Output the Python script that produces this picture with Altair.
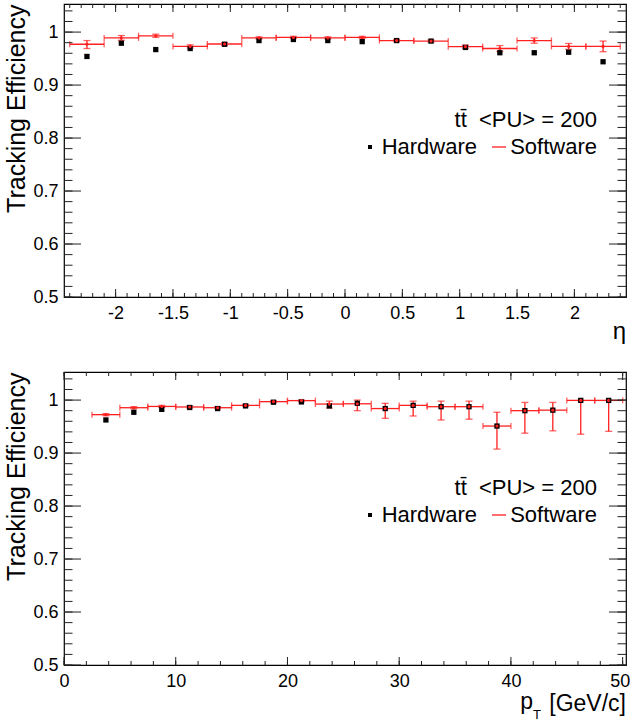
import altair as alt
import pandas as pd

# ---------------- data ----------------
eta_centers = [-2.25, -1.95, -1.65, -1.35, -1.05, -0.75, -0.45, -0.15,
               0.15, 0.45, 0.75, 1.05, 1.35, 1.65, 1.95, 2.25]
eta_halfwidth = 0.15
eta_hw = [0.954, 0.979, 0.967, 0.969, 0.977, 0.984, 0.986, 0.984,
          0.982, 0.984, 0.983, 0.971, 0.961, 0.961, 0.962, 0.944]
eta_sw = [0.977, 0.989, 0.993, 0.973, 0.9775, 0.989, 0.990, 0.989,
          0.990, 0.984, 0.983, 0.9725, 0.969, 0.984, 0.973, 0.973]
eta_sw_lo = [0.969, 0.9845, 0.990, 0.970, 0.9745, 0.987, 0.988, 0.987,
             0.988, 0.982, 0.981, 0.9695, 0.9635, 0.979, 0.9675, 0.963]
eta_sw_hi = [0.984, 0.9935, 0.996, 0.976, 0.9805, 0.991, 0.992, 0.991,
             0.992, 0.986, 0.985, 0.9755, 0.9745, 0.989, 0.9785, 0.983]

pt_centers = [3.75, 6.25, 8.75, 11.25, 13.75, 16.25, 18.75, 21.25, 23.75, 26.25,
              28.75, 31.25, 33.75, 36.25, 38.75, 41.25, 43.75, 46.25, 48.75]
pt_halfwidth = 1.25
pt_hw = [0.9625, 0.977, 0.9825, 0.986, 0.984, 0.989, 0.996, 0.9965, 0.989, 0.994,
         0.984, 0.990, 0.9875, 0.9875, 0.951, 0.980, 0.981, 0.9994, 0.9994]
pt_sw = [0.9725, 0.9856, 0.988, 0.987, 0.9856, 0.990, 0.997, 0.999, 0.9925, 0.993,
         0.984, 0.990, 0.9875, 0.9875, 0.951, 0.980, 0.981, 0.9994, 0.9994]
pt_sw_lo = [0.9705, 0.9836, 0.986, 0.985, 0.9836, 0.988, 0.995, 0.997, 0.985, 0.980,
            0.9656, 0.970, 0.9625, 0.964, 0.9075, 0.9375, 0.942, 0.9356, 0.941]
pt_sw_hi = [0.9745, 0.9876, 0.990, 0.989, 0.9876, 0.992, 0.999, 1.0, 0.998, 1.0,
            0.9938, 0.998, 0.998, 0.998, 0.977, 0.9956, 0.9956, 0.9994, 0.9994]

y_major = [0.5, 0.6, 0.7, 0.8, 0.9, 1.0]
y_minor = [round(0.5 + 0.02 * i, 2) for i in range(28)]
eta_major = [-2.0, -1.5, -1.0, -0.5, 0.0, 0.5, 1.0, 1.5, 2.0]
eta_minor = [round(-2.4 + 0.1 * i, 1) for i in range(49)]
pt_major = [0, 10, 20, 30, 40, 50]
pt_minor = list(range(0, 51, 2))

legend_title = ["tt\u0304\u00a0\u00a0<PU> = 200"]
legend_hw = ["Hardware"]
legend_sw = ["Software"]

# ---------------- layout constants ----------------
W, H = 562, 293
FONT = "Liberation Sans"
RED = "#ff2020"
Y_DOM = [0.5, 1.053]


def make_panel(centers, half, hw, sw, lo, hi, xdom, xmajor, xminor, xtitle_layers, last_label):
    df = pd.DataFrame({
        "c": centers,
        "xl": [c - half for c in centers],
        "xh": [c + half for c in centers],
        "hw": hw, "sw": sw, "lo": lo, "hi": hi,
    })
    xs = alt.Scale(domain=xdom, nice=False, zero=False)
    ys = alt.Scale(domain=Y_DOM, nice=False, zero=False)
    xaxis = alt.Axis(values=xmajor, labelExpr="datum.value + ''", ticks=False, domain=False,
                     grid=False, labelFont=FONT, labelFontSize=18, labelColor="black",
                     labelPadding=7, title=None, labelFlush=False,
                     labelOffset=alt.condition(f"datum.value == {last_label}", alt.value(-3), alt.value(0)))
    yaxis = alt.Axis(values=y_major, labelExpr="datum.value + ''", ticks=False, domain=False,
                     grid=False, labelFont=FONT, labelFontSize=18, labelColor="black",
                     labelPadding=6, title="Tracking Efficiency", titleFont=FONT,
                     titleFontSize=25, titleFontWeight="normal", titleColor="black",
                     titlePadding=3, titleAnchor="end")

    def X(f):
        return alt.X(f, type="quantitative", scale=xs, axis=xaxis)

    def Y(f):
        return alt.Y(f, type="quantitative", scale=ys, axis=yaxis)

    base = alt.Chart(df)
    hbar = base.mark_rule(color=RED, strokeWidth=1.3).encode(x=X("xl"), x2="xh", y=Y("sw"))
    vbar = base.mark_rule(color=RED, strokeWidth=1.3).encode(x=X("c"), y=Y("lo"), y2="hi")
    cap_lo = base.mark_tick(color=RED, orient="horizontal", size=7, thickness=1.3).encode(x=X("c"), y=Y("lo"))
    cap_hi = base.mark_tick(color=RED, orient="horizontal", size=7, thickness=1.3).encode(x=X("c"), y=Y("hi"))
    cap_l = base.mark_tick(color=RED, orient="vertical", size=6, thickness=1.3).encode(x=X("xl"), y=Y("sw"))
    cap_r = base.mark_tick(color=RED, orient="vertical", size=6, thickness=1.3).encode(x=X("xh"), y=Y("sw"))
    hwpts = base.mark_square(color="black", size=28, opacity=1).encode(x=X("c"), y=Y("hw"))
    swpts = base.mark_circle(color=RED, size=10, opacity=1).encode(x=X("c"), y=Y("sw"))

    # inner ticks (ROOT style) on all four sides
    ymaj = alt.Chart(pd.DataFrame({"v": y_major})).encode(y=Y("v"))
    ymin = alt.Chart(pd.DataFrame({"v": y_minor})).encode(y=Y("v"))
    xmaj = alt.Chart(pd.DataFrame({"v": xmajor})).encode(x=X("v"))
    xmin = alt.Chart(pd.DataFrame({"v": xminor})).encode(x=X("v"))
    tcol = "#222222"
    ticks = [
        ymaj.mark_rule(color=tcol).encode(x=alt.value(0), x2=alt.value(17)),
        ymaj.mark_rule(color=tcol).encode(x=alt.value(W - 17), x2=alt.value(W)),
        ymin.mark_rule(color=tcol).encode(x=alt.value(0), x2=alt.value(8.5)),
        ymin.mark_rule(color=tcol).encode(x=alt.value(W - 8.5), x2=alt.value(W)),
        xmaj.mark_rule(color=tcol).encode(y=alt.value(H), y2=alt.value(H - 8)),
        xmaj.mark_rule(color=tcol).encode(y=alt.value(0), y2=alt.value(8)),
        xmin.mark_rule(color=tcol).encode(y=alt.value(H), y2=alt.value(H - 4)),
        xmin.mark_rule(color=tcol).encode(y=alt.value(0), y2=alt.value(4)),
    ]

    # legend
    leg = [
        alt.Chart(pd.DataFrame({"t": legend_title})).mark_text(
            font=FONT, fontSize=22, align="right", baseline="alphabetic", color="black"
        ).encode(text="t:N", x=alt.value(533), y=alt.value(123)),
        alt.Chart(pd.DataFrame({"t": legend_hw})).mark_text(
            font=FONT, fontSize=22, align="right", baseline="alphabetic", color="black"
        ).encode(text="t:N", x=alt.value(413), y=alt.value(150)),
        alt.Chart(pd.DataFrame({"t": legend_sw})).mark_text(
            font=FONT, fontSize=22, align="right", baseline="alphabetic", color="black"
        ).encode(text="t:N", x=alt.value(533), y=alt.value(150)),
        alt.Chart(pd.DataFrame({"t": legend_hw})).mark_square(
            color="black", size=16, opacity=1
        ).encode(x=alt.value(306), y=alt.value(143)),
        alt.Chart(pd.DataFrame({"t": legend_sw})).mark_rule(
            color=RED, strokeWidth=1.3
        ).encode(x=alt.value(428), x2=alt.value(442), y=alt.value(143)),
    ]

    layers = [hbar, vbar, cap_lo, cap_hi, cap_l, cap_r, hwpts, swpts] + ticks + leg + xtitle_layers
    return alt.layer(*layers).properties(width=W, height=H)


eta_title = [
    alt.Chart(pd.DataFrame({"t": ["\u03b7"]})).mark_text(
        font=FONT, fontSize=24, align="right", baseline="middle", color="black"
    ).encode(text="t:N", x=alt.value(W), y=alt.value(H + 35)),
]
pt_title = [
    alt.Chart(pd.DataFrame({"t": ["[GeV/c]"]})).mark_text(
        font=FONT, fontSize=23, align="right", baseline="middle", color="black"
    ).encode(text="t:N", x=alt.value(W), y=alt.value(H + 39)),
    alt.Chart(pd.DataFrame({"t": ["p"]})).mark_text(
        font=FONT, fontSize=23, align="right", baseline="middle", color="black"
    ).encode(text="t:N", x=alt.value(W - 93), y=alt.value(H + 37)),
    alt.Chart(pd.DataFrame({"t": ["T"]})).mark_text(
        font=FONT, fontSize=13, align="center", baseline="middle", color="black"
    ).encode(text="t:N", x=alt.value(W - 89), y=alt.value(H + 50)),
]

top = make_panel(eta_centers, eta_halfwidth, eta_hw, eta_sw, eta_sw_lo, eta_sw_hi,
                 [-2.45, 2.45], eta_major, eta_minor, eta_title, 99)
bot = make_panel(pt_centers, pt_halfwidth, pt_hw, pt_sw, pt_sw_lo, pt_sw_hi,
                 [0, 50.3], pt_major, pt_minor, pt_title, 50)

chart = alt.vconcat(top, bot, spacing=25).properties(
    padding={"left": 4, "top": 2, "right": 0, "bottom": 0},
    background="white",
).configure_view(stroke="black", strokeWidth=1.2)

chart.save("out.html", embed_options={"renderer": "svg", "actions": False})
